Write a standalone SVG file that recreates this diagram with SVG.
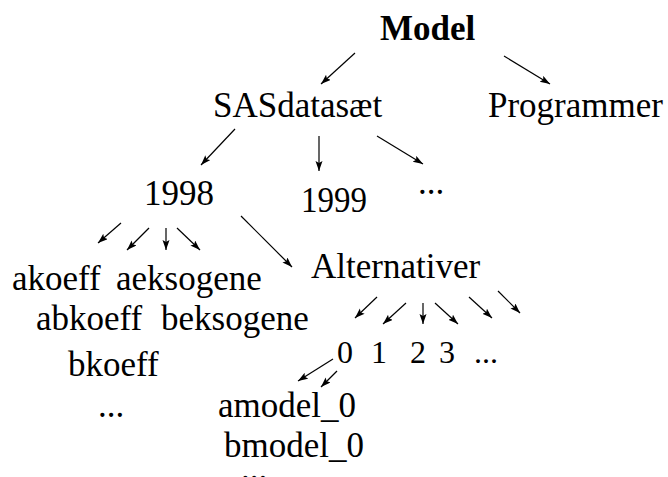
<svg xmlns="http://www.w3.org/2000/svg" width="668" height="477" viewBox="0 0 668 477">
<style>
text{font-family:"Liberation Serif","Times New Roman",serif;font-size:35px;fill:#000}
.b{font-weight:bold}
.s{font-size:32px}
line{stroke:#000;stroke-width:1.2;marker-end:url(#ah)}
</style>
<defs>
<marker id="ah" markerUnits="userSpaceOnUse" markerWidth="11" markerHeight="8" refX="10" refY="3.5" orient="auto">
<path d="M0,0 L10,3.5 L0,7 L2,3.5 z" fill="#000"/>
</marker>
</defs>
<rect width="668" height="477" fill="#fff"/>
<g id="connectors">
<line x1="355" y1="53" x2="321" y2="84"/>
<line x1="504" y1="56" x2="550" y2="84"/>
<line x1="235" y1="129" x2="201" y2="165"/>
<line x1="319" y1="136" x2="319" y2="171"/>
<line x1="377" y1="136" x2="423" y2="164"/>
<line x1="121" y1="223" x2="98" y2="243"/>
<line x1="149" y1="228" x2="127" y2="250"/>
<line x1="166" y1="228" x2="166" y2="250"/>
<line x1="177" y1="228" x2="200" y2="250"/>
<line x1="241" y1="216" x2="292" y2="267"/>
<line x1="377" y1="297" x2="355" y2="318"/>
<line x1="406" y1="303" x2="383" y2="324"/>
<line x1="423" y1="303" x2="423" y2="324"/>
<line x1="435" y1="303" x2="458" y2="324"/>
<line x1="469" y1="297" x2="492" y2="318"/>
<line x1="498" y1="291" x2="520" y2="313"/>
<line x1="333" y1="359" x2="298" y2="381"/>
<line x1="337" y1="371" x2="321" y2="387"/>
</g>
<g id="model"><text class="b" x="380" y="40">Model</text></g>
<g id="sasdatasaet"><text x="213" y="117">SASdatasæt</text></g>
<g id="programmer"><text x="488" y="117">Programmer</text></g>
<g id="y1998"><text x="144" y="205">1998</text></g>
<g id="y1999"><text x="301" y="212" font-size="36" textLength="66" lengthAdjust="spacingAndGlyphs">1999</text></g>
<g id="years-more"><text x="418" y="194">...</text></g>
<g id="akoeff"><text x="12" y="290">akoeff</text></g>
<g id="aeksogene"><text x="116" y="290">aeksogene</text></g>
<g id="abkoeff"><text x="36" y="330">abkoeff</text></g>
<g id="beksogene"><text x="161" y="330">beksogene</text></g>
<g id="bkoeff"><text x="68" y="376">bkoeff</text></g>
<g id="tables-more"><text x="98" y="417">...</text></g>
<g id="alternativer"><text x="311" y="278">Alternativer</text></g>
<g id="alt0"><text class="s" x="337" y="363">0</text></g>
<g id="alt1"><text class="s" x="371" y="363">1</text></g>
<g id="alt2"><text class="s" x="410" y="363">2</text></g>
<g id="alt3"><text class="s" x="439" y="363">3</text></g>
<g id="alt-more"><text class="s" x="474" y="363">...</text></g>
<g id="amodel0"><text x="218" y="417">amodel_0</text></g>
<g id="bmodel0"><text x="224" y="457">bmodel_0</text></g>
<g id="models-more"><text x="241" y="480">...</text></g>
</svg>
